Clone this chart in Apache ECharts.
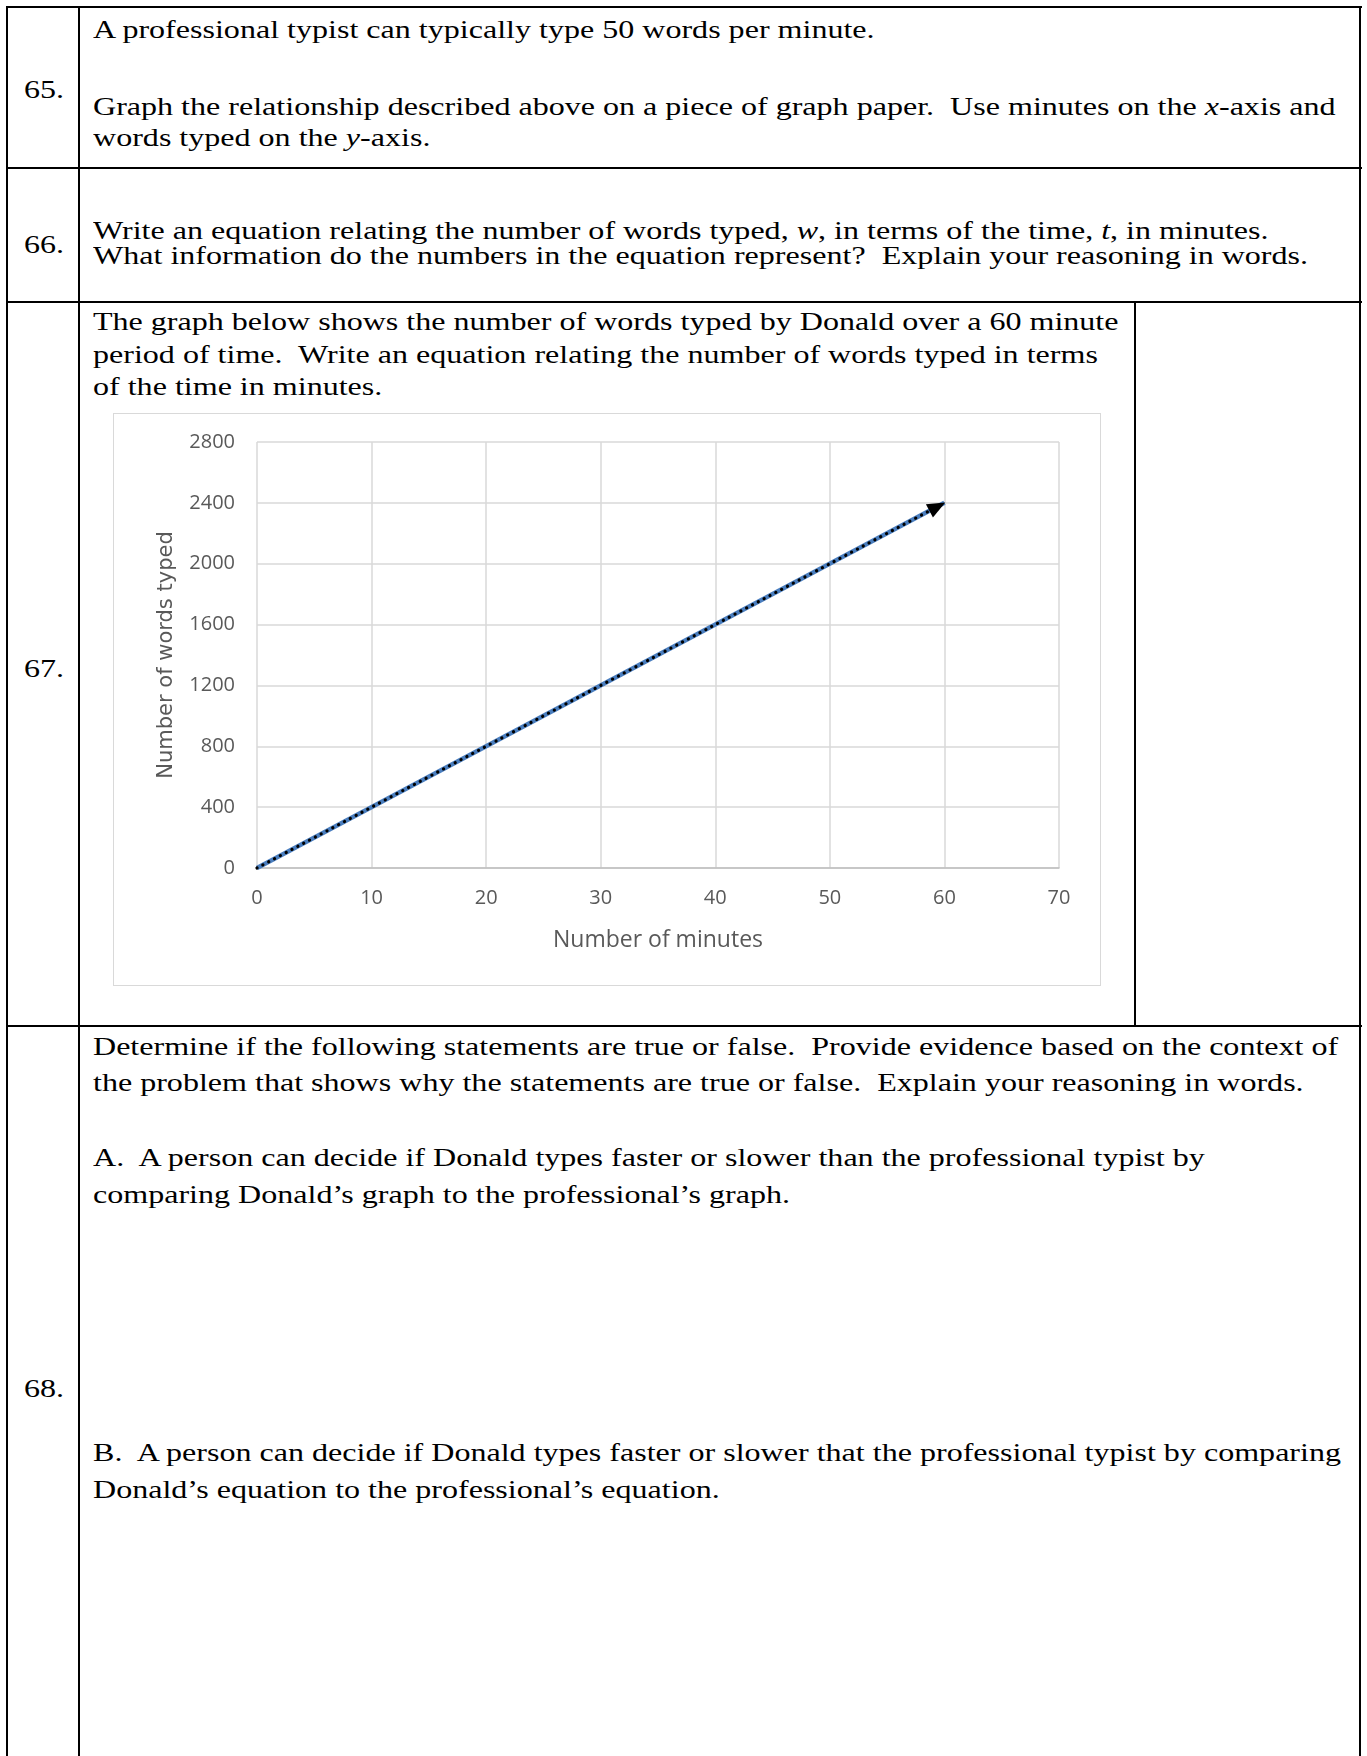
<!DOCTYPE html>
<html>
<head>
<meta charset="utf-8">
<script src="https://cdn.jsdelivr.net/npm/echarts@6/dist/echarts.min.js"></script>
<style>
  html, body { margin: 0; padding: 0; background: #fff; }
  body { width: 1367px; height: 1756px; position: relative; overflow: hidden; }
  .t { position: absolute; font-family: "Liberation Serif", "Times New Roman", serif; font-size: 25.5px; color: #000; white-space: pre; line-height: 30px; transform: scaleX(1.257); transform-origin: 0 0; }
  .b { position: absolute; background: #000; }
  #chart { position: absolute; left: 113px; top: 413px; width: 988px; height: 573px; box-sizing: border-box; border: 1px solid #d9d9d9; }
</style>
</head>
<body>
<!-- table borders -->
<div class="b" style="left:6px; top:6px; width:1356px; height:2px;"></div>
<div class="b" style="left:6px; top:167px; width:1356px; height:2px;"></div>
<div class="b" style="left:6px; top:301px; width:1356px; height:2px;"></div>
<div class="b" style="left:6px; top:1025px; width:1356px; height:2px;"></div>
<div class="b" style="left:6px; top:6px; width:2px; height:1750px;"></div>
<div class="b" style="left:78px; top:6px; width:2px; height:1750px;"></div>
<div class="b" style="left:1359px; top:6px; width:2px; height:1750px;"></div>
<div class="b" style="left:1134px; top:302px; width:2px; height:724px;"></div>

<!-- row 65 -->
<div class="t" style="left:24px; top:75px;">65.</div>
<div class="t" style="left:93px; top:15px;">A professional typist can typically type 50 words per minute.</div>
<div class="t" style="left:93px; top:92px;">Graph the relationship described above on a piece of graph paper.  Use minutes on the <i>x</i>-axis and</div>
<div class="t" style="left:93px; top:123px;">words typed on the <i>y</i>-axis.</div>

<!-- row 66 -->
<div class="t" style="left:24px; top:230px;">66.</div>
<div class="t" style="left:93px; top:216px;">Write an equation relating the number of words typed, <i>w</i>, in terms of the time, <i>t</i>, in minutes.</div>
<div class="t" style="left:93px; top:241px;">What information do the numbers in the equation represent?  Explain your reasoning in words.</div>

<!-- row 67 -->
<div class="t" style="left:24px; top:654px;">67.</div>
<div class="t" style="left:93px; top:307px;">The graph below shows the number of words typed by Donald over a 60 minute</div>
<div class="t" style="left:93px; top:340px;">period of time.  Write an equation relating the number of words typed in terms</div>
<div class="t" style="left:93px; top:372px;">of the time in minutes.</div>

<!-- row 68 -->
<div class="t" style="left:24px; top:1374px;">68.</div>
<div class="t" style="left:93px; top:1032px;">Determine if the following statements are true or false.  Provide evidence based on the context of</div>
<div class="t" style="left:93px; top:1068px;">the problem that shows why the statements are true or false.  Explain your reasoning in words.</div>
<div class="t" style="left:93px; top:1143px;">A.  A person can decide if Donald types faster or slower than the professional typist by</div>
<div class="t" style="left:93px; top:1180px;">comparing Donald’s graph to the professional’s graph.</div>
<div class="t" style="left:93px; top:1438px;">B.  A person can decide if Donald types faster or slower that the professional typist by comparing</div>
<div class="t" style="left:93px; top:1475px;">Donald’s equation to the professional’s equation.</div>

<div id="chart"></div>

<script>
// ---- data ----
const minutes = [0, 60];
const wordsTyped = [0, 2400];
const xTicks = { min: 0, max: 70, step: 10 };
const yTicks = { min: 0, max: 2800, step: 400 };
const xTitle = 'Number of minutes';
const yTitle = 'Number of words typed';

const chart = echarts.init(document.getElementById('chart'), null, { renderer: 'canvas' });
const pts = minutes.map((m, i) => [m, wordsTyped[i]]);
const labelFont = '"Open Sans", "Liberation Sans", sans-serif';

chart.setOption({
  animation: false,
  backgroundColor: '#fff',
  grid: { left: 143, top: 28, right: 41, bottom: 117, containLabel: false },
  xAxis: {
    type: 'value', min: xTicks.min, max: xTicks.max, interval: xTicks.step,
    name: xTitle, nameLocation: 'middle', nameGap: 61,
    nameTextStyle: { color: '#595959', fontSize: 23, fontFamily: labelFont },
    axisLine: { show: true, lineStyle: { color: '#bfbfbf', width: 1.5 } },
    axisTick: { show: false },
    axisLabel: { color: '#595959', fontSize: 20, fontFamily: labelFont, margin: 20 },
    splitLine: { show: true, lineStyle: { color: '#d9d9d9', width: 1.5 } }
  },
  yAxis: {
    type: 'value', min: yTicks.min, max: yTicks.max, interval: yTicks.step,
    name: yTitle, nameLocation: 'middle', nameGap: 80, nameRotate: 90,
    nameTextStyle: { color: '#595959', fontSize: 21, fontFamily: '"DejaVu Sans", sans-serif' },
    axisLine: { show: false },
    axisTick: { show: false },
    axisLabel: { color: '#595959', fontSize: 20, fontFamily: labelFont, margin: 22, formatter: v => String(v) },
    splitLine: { show: true, lineStyle: { color: '#d9d9d9', width: 1.5 } }
  },
  series: [{
    type: 'line',
    data: pts,
    symbol: 'none',
    silent: true,
    lineStyle: { color: '#4a7ebf', width: 4.5 },
    z: 3,
    markLine: {
      silent: true,
      animation: false,
      symbol: ['none', 'triangle'],
      symbolSize: [15, 18],
      symbolOffset: [[0, 0], [0, 8]],
      label: { show: false },
      itemStyle: { color: '#000' },
      lineStyle: { color: '#000', width: 3.2, type: [0.1, 6.5], cap: 'round' },
      data: [[ { coord: pts[0] }, { coord: pts[pts.length - 1] } ]],
      z: 4
    }
  }]
});
</script>
</body>
</html>
